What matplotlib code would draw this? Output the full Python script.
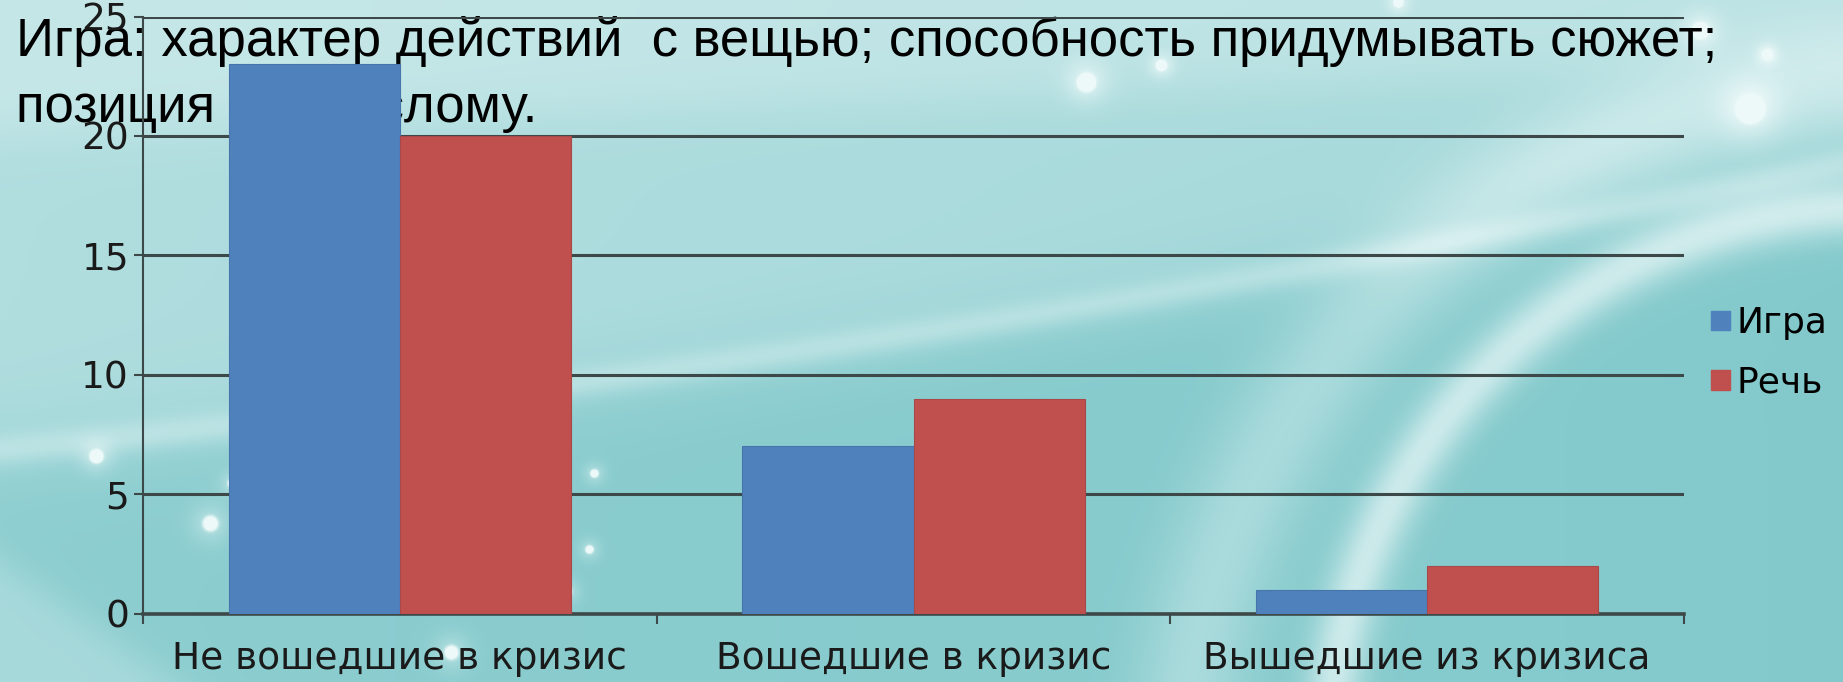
import numpy as np
import matplotlib.pyplot as plt
from matplotlib.patches import Patch

categories = ['Не вошедшие в кризис', 'Вошедшие в кризис', 'Вышедшие из кризиса']
series_names = ['Игра', 'Речь']
igra = [23, 7, 1]
rech = [20, 9, 2]
yticks = [0, 5, 10, 15, 20, 25]
title_lines = ['Игра: характер действий  с вещью; способность придумывать сюжет;',
               'позиция к взрослому.']

blue = '#4f81bd'
red = '#c0504d'
grid_col = '#3d4848'
font = 'DejaVu Sans'

W, H = 1843, 682
fig = plt.figure(figsize=(W / 100, H / 100), dpi=100)

# teal slide background: light swoosh from the left, arcs on the right, glowing dots
bg = fig.add_axes([0, 0, 1, 1], zorder=-2)
Y, X = np.mgrid[0:H, 0:W].astype(float)
sig = lambda t: 1 / (1 + np.exp(-t))
ysw = 450 - 0.1 * X - 0.00003 * X ** 2
w = 0.10 + 0.08 * (1 - X / W)
w += 0.30 * sig((ysw - Y) / 25)
w += 0.18 * sig((135 - 0.04 * X - Y) / 15)
w += 0.25 * np.exp(-((Y - ysw) / 16) ** 2)
w += 0.22 * sig((Y - 560 - 0.7 * X) / 12)
d = np.hypot(X - 1877, Y - 755)
w += 0.6 * np.exp(-((d - 548) / 28) ** 2)
d2 = np.hypot(X - 1900, Y - 800)
w += 0.3 * np.exp(-((d2 - 720) / 55) ** 2)
dots = [(96, 456, 11), (210, 523, 13), (594, 473, 7), (589, 549, 7), (567, 591, 8),
        (232, 483, 8), (451, 652, 12), (1086, 82, 14), (1161, 65, 8), (1398, 2, 7),
        (1750, 109, 20), (1767, 54, 7), (1700, 30, 12)]
for cx, cy, r in dots:
    dd = np.hypot(X - cx, Y - cy)
    w += 0.9 * np.exp(-(dd / (0.6 * r)) ** 4) + 0.3 * np.exp(-(dd / (1.5 * r)) ** 2)
w = np.clip(w, 0, 1)[..., None]
dark = np.array([0.47, 0.77, 0.78])
light = np.array([0.93, 0.975, 0.975])
bg.imshow(w * light + (1 - w) * dark, aspect='auto', extent=[0, W, H, 0])
bg.set_xlim(0, W)
bg.set_ylim(H, 0)
bg.axis('off')

# heading text (sits behind the chart)
fig.text(16 / W, 1 - 56 / H, title_lines[0], fontsize=38, family='Liberation Sans',
         color='black', zorder=-1, va='baseline')
fig.text(16 / W, 1 - 122 / H, title_lines[1], fontsize=38, family='Liberation Sans',
         color='black', zorder=-1, va='baseline')

ax = fig.add_axes([143 / W, 1 - 613.5 / H, (1684 - 143) / W, (613.5 - 16.5) / H])
ax.patch.set_alpha(0)
x = np.arange(len(categories))
bw = 1 / 3
ax.bar(x - bw / 2, igra, bw, color=blue, edgecolor='#4674ab', lw=0.8, zorder=3)
ax.bar(x + bw / 2, rech, bw, color=red, edgecolor='#a94848', lw=0.8, zorder=3)

ax.set_xlim(-0.5, 2.5)
ax.set_ylim(0, 25)
ax.set_yticks(yticks)
ax.yaxis.grid(True, color=grid_col, lw=2.2)
ax.set_axisbelow(True)

ax.set_xticks([-0.5, 0.5, 1.5, 2.5])
ax.set_xticklabels([])
ax.set_xticks(x, minor=True)
ax.set_xticklabels(categories, minor=True, fontsize=27, family=font, color='#1a1a1a')
ax.tick_params(axis='x', which='minor', length=0, pad=20)
ax.tick_params(axis='x', which='major', length=7, width=1.5, color=grid_col)
ax.tick_params(axis='y', length=6.5, width=1.5, color=grid_col, pad=3.5,
               labelsize=27, labelcolor='#1a1a1a')
for lab in ax.get_yticklabels():
    lab.set_family(font)

for s in ['top', 'right']:
    ax.spines[s].set_visible(False)
ax.spines['left'].set_color(grid_col)
ax.spines['left'].set_linewidth(1.5)
ax.spines['bottom'].set_color(grid_col)
ax.spines['bottom'].set_linewidth(2.6)

handles = [Patch(color=blue), Patch(color=red)]
fig.legend(handles, series_names, loc='center left', bbox_to_anchor=(1711 / W, 1 - 353 / H),
           frameon=False, handlelength=0.53, handleheight=0.47, handletextpad=0.17,
           labelspacing=0.7, borderpad=0, borderaxespad=0,
           prop={'family': font, 'size': 26})

fig.savefig('out.png', dpi=100)
